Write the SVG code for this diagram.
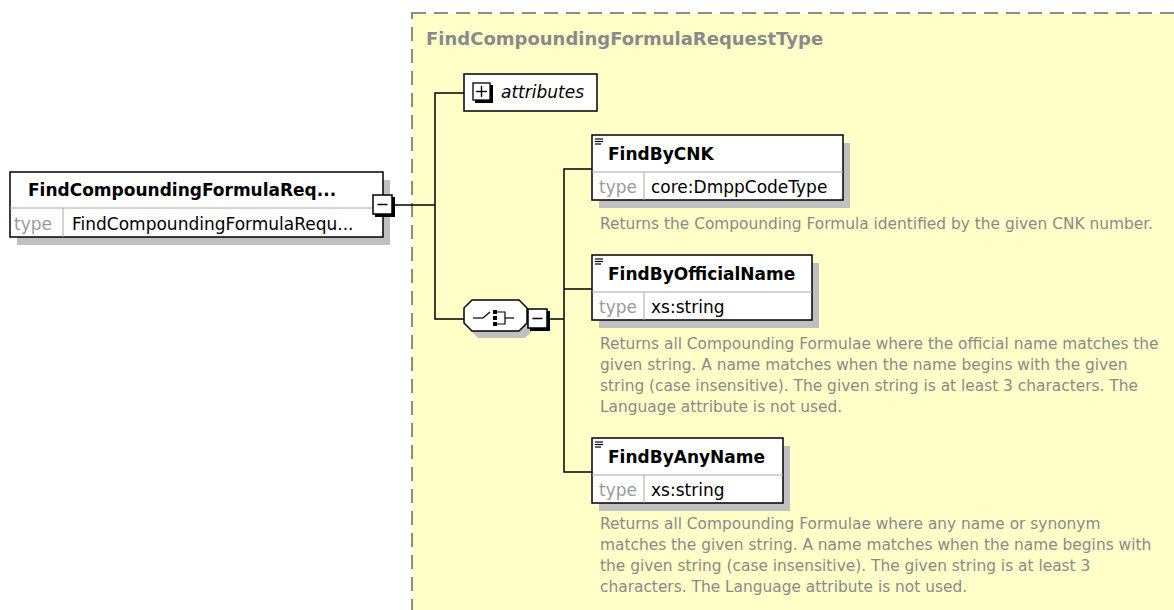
<svg xmlns="http://www.w3.org/2000/svg" width="1174" height="610" viewBox="0 0 1174 610">
<style>
.hdr{font-family:"DejaVu Sans",sans-serif;font-weight:bold;font-size:17px;fill:#000}
.typ{font-family:"DejaVu Sans",sans-serif;font-size:17px;fill:#9a9a9a}
.val{font-family:"DejaVu Sans",sans-serif;font-size:17px;fill:#000}
.desc{font-family:"DejaVu Sans",sans-serif;font-size:15.4px;fill:#8a8a8a}
.title{font-family:"DejaVu Sans",sans-serif;font-weight:bold;font-size:18px;fill:#8a8a8a}
.box{fill:#fff;stroke:#000;stroke-width:1.5}
.shadow{fill:#c0c0c0}
.div{stroke:#a8a8a8;stroke-width:1}
.conn{stroke:#000;stroke-width:1.5;fill:none}
.ico{stroke:#000;stroke-width:1.2}
</style>
<defs>
<g id="doc">
<line x1="0" y1="0" x2="8" y2="0" class="ico"/>
<line x1="0" y1="2.5" x2="8" y2="2.5" class="ico"/>
<line x1="0" y1="5" x2="6" y2="5" class="ico"/>
</g>
<g id="minus">
<rect x="2" y="2" width="20" height="20" fill="#000"/>
<rect x="0" y="0" width="19" height="19" fill="#fff" stroke="#000" stroke-width="1.5"/>
<line x1="4.5" y1="9.5" x2="14.5" y2="9.5" stroke="#000" stroke-width="1.5"/>
</g>
</defs>

<g id="container">
<rect x="412" y="13" width="780" height="620" fill="#ffffc8" stroke="#8c8c8c" stroke-width="2" stroke-dasharray="14,8"/>
<text x="426" y="45" class="title">FindCompoundingFormulaRequestType</text>
</g>

<g id="connectors">
<polyline class="conn" points="393,205 435,205"/>
<polyline class="conn" points="464,93 435,93 435,319 464,319"/>
<polyline class="conn" points="548,319 564,319"/>
<polyline class="conn" points="592,169 564,169 564,472 592,472"/>
<polyline class="conn" points="564,289 592,289"/>
</g>

<g id="root">
<rect x="17" y="180" width="373" height="65" class="shadow"/>
<rect x="10" y="172" width="373" height="65" class="box"/>
<line x1="10" y1="208" x2="383" y2="208" class="div"/>
<line x1="63" y1="208" x2="63" y2="237" class="div"/>
<text x="28" y="196" class="hdr">FindCompoundingFormulaReq...</text>
<text x="14" y="230" class="typ">type</text>
<text x="72" y="230" class="val">FindCompoundingFormulaRequ...</text>
<use href="#minus" x="373" y="195"/>
</g>

<g id="attributes">
<rect x="464" y="74" width="133" height="37" class="box"/>
<rect x="475" y="85" width="18" height="18" fill="#000"/>
<rect x="473" y="83" width="17" height="17" fill="#fff" stroke="#000" stroke-width="1.3"/>
<line x1="476" y1="91.5" x2="487" y2="91.5" stroke="#000" stroke-width="1.4"/>
<line x1="481.5" y1="86" x2="481.5" y2="97" stroke="#000" stroke-width="1.4"/>
<text x="501" y="98" class="val" font-style="italic">attributes</text>
</g>

<g id="sequence">
<polygon points="478,307 525,307 533,315 533,330 525,338 478,338 470,330 470,315" class="shadow"/>
<polygon points="472,300 519,300 527,308 527,323 519,331 472,331 464,323 464,308" fill="#fff" stroke="#000" stroke-width="1.5"/>
<line x1="473" y1="318" x2="483" y2="318" class="ico"/>
<line x1="483" y1="318" x2="490" y2="312" class="ico"/>
<rect x="493" y="310" width="4" height="4" fill="#000"/>
<rect x="493" y="316" width="4" height="4" fill="#000"/>
<rect x="493" y="322" width="4" height="4" fill="#000"/>
<polyline points="497,312 505,312 505,324 497,324" fill="none" class="ico"/>
<line x1="505" y1="318" x2="514" y2="318" class="ico"/>
<use href="#minus" x="528" y="309"/>
</g>

<g id="FindByCNK">
<rect x="599" y="143" width="251" height="65" class="shadow"/>
<rect x="592" y="135" width="251" height="65" class="box"/>
<line x1="592" y1="172" x2="843" y2="172" class="div"/>
<line x1="644" y1="172" x2="644" y2="200" class="div"/>
<use href="#doc" x="595" y="139"/>
<text x="608" y="160" class="hdr">FindByCNK</text>
<text x="599" y="193" class="typ">type</text>
<text x="651" y="193" class="val">core:DmppCodeType</text>
<text x="600" y="229" class="desc">Returns the Compounding Formula identified by the given CNK number.</text>
</g>

<g id="FindByOfficialName">
<rect x="599" y="263" width="220" height="65" class="shadow"/>
<rect x="592" y="255" width="220" height="65" class="box"/>
<line x1="592" y1="292" x2="812" y2="292" class="div"/>
<line x1="644" y1="292" x2="644" y2="320" class="div"/>
<use href="#doc" x="595" y="259"/>
<text x="608" y="280" class="hdr">FindByOfficialName</text>
<text x="599" y="313" class="typ">type</text>
<text x="651" y="313" class="val">xs:string</text>
<text x="600" y="349" class="desc">Returns all Compounding Formulae where the official name matches the</text>
<text x="600" y="370" class="desc">given string. A name matches when the name begins with the given</text>
<text x="600" y="391" class="desc">string (case insensitive). The given string is at least 3 characters. The</text>
<text x="600" y="412" class="desc">Language attribute is not used.</text>
</g>

<g id="FindByAnyName">
<rect x="599" y="446" width="191" height="65" class="shadow"/>
<rect x="592" y="438" width="191" height="65" class="box"/>
<line x1="592" y1="475" x2="783" y2="475" class="div"/>
<line x1="644" y1="475" x2="644" y2="503" class="div"/>
<use href="#doc" x="595" y="442"/>
<text x="608" y="463" class="hdr">FindByAnyName</text>
<text x="599" y="496" class="typ">type</text>
<text x="651" y="496" class="val">xs:string</text>
<text x="600" y="529" class="desc">Returns all Compounding Formulae where any name or synonym</text>
<text x="600" y="550" class="desc">matches the given string. A name matches when the name begins with</text>
<text x="600" y="571" class="desc">the given string (case insensitive). The given string is at least 3</text>
<text x="600" y="592" class="desc">characters. The Language attribute is not used.</text>
</g>
</svg>
